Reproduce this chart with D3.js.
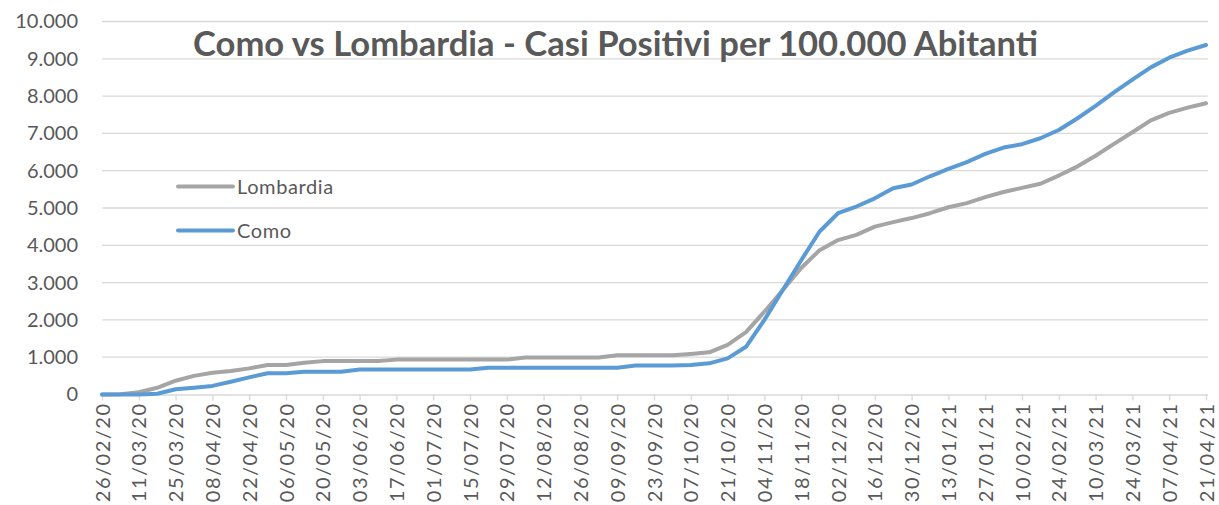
<!DOCTYPE html>
<html lang="it">
<head>
<meta charset="UTF-8">
<title>Como vs Lombardia</title>
<script src="https://d3js.org/d3.v7.min.js"></script>
<style>
    body { margin: 0; background: #fff; }
    text { font-family: Lato, "Open Sans", sans-serif; fill: #595959; }
    .grid line { stroke: #d9d9d9; stroke-width: 1.3px; }
    .axis path, .axis line { stroke: #d9d9d9; stroke-width: 1.3px; }
    .line { fill: none; stroke-width: 4px; stroke-linejoin: round; stroke-linecap: round; }
</style>
</head>
<body>
<svg width="1219" height="505"></svg>
<script>
    // tick labels, one every two weeks
    const tickLabels = ['26/02/20','11/03/20','25/03/20','08/04/20','22/04/20','06/05/20','20/05/20',
        '03/06/20','17/06/20','01/07/20','15/07/20','29/07/20','12/08/20','26/08/20','09/09/20',
        '23/09/20','07/10/20','21/10/20','04/11/20','18/11/20','02/12/20','16/12/20','30/12/20',
        '13/01/21','27/01/21','10/02/21','24/02/21','10/03/21','24/03/21','07/04/21','21/04/21'];

    // weekly values, casi positivi per 100.000 abitanti
    const lombardia = [0,10,60,180,370,500,585,630,700,790,790,850,895,895,895,895,935,935,935,935,
        935,935,935,990,990,990,990,990,1050,1050,1050,1050,1085,1130,1330,1670,2220,2800,3390,3870,
        4140,4280,4500,4620,4730,4860,5020,5130,5290,5430,5540,5650,5870,6110,6400,6720,7030,7350,
        7550,7690,7810];
    const como = [0,0,0,20,140,180,230,340,460,570,570,610,610,610,670,670,670,670,670,670,
        670,720,720,720,720,720,720,720,720,775,775,775,790,835,970,1280,2000,2800,3600,4370,
        4860,5040,5260,5530,5630,5850,6050,6230,6450,6620,6710,6870,7090,7400,7740,8100,8440,8770,
        9030,9220,9370];

    const yTicks = [0,1000,2000,3000,4000,5000,6000,7000,8000,9000,10000];

    const svg = d3.select('svg');
    const plotLeft = 102, plotRight = 1206, plotTop = 21.5, plotBottom = 394.5;

    const x = d3.scaleLinear().domain([0, lombardia.length - 1]).range([plotLeft, plotRight]);
    const y = d3.scaleLinear().domain([0, 10000]).range([plotBottom, plotTop]);
    const fmt = d3.format(',.0f');
    const itFmt = v => v === 0 ? '0' : fmt(v).replace(/,/g, '.');

    // gridlines
    svg.append('g').attr('class', 'grid')
        .selectAll('line').data(yTicks.filter(d => d > 0)).enter()
        .append('line')
        .attr('x1', plotLeft).attr('x2', plotRight + 2)
        .attr('y1', d => y(d)).attr('y2', d => y(d));

    // y labels
    const yAxis = svg.append('g')
        .attr('transform', `translate(${plotLeft - 14},0)`)
        .call(d3.axisLeft(y).tickValues(yTicks).tickSize(0).tickFormat(itFmt));
    yAxis.select('.domain').remove();
    yAxis.selectAll('text').style('font-size', '20px').attr('x', -10).attr('fill', '#595959');

    // x axis
    const xAxis = svg.append('g').attr('class', 'axis')
        .attr('transform', `translate(0,${plotBottom})`)
        .call(d3.axisBottom(x).tickValues(d3.range(0, lombardia.length, 2))
            .tickSize(6).tickSizeOuter(0).tickFormat(i => tickLabels[i / 2]));
    xAxis.select('.domain').attr('d', `M${plotLeft},0.5H${plotRight + 2}`);
    xAxis.selectAll('text')
        .style('font-size', '20px')
        .style('letter-spacing', '1.5px')
        .attr('fill', '#595959')
        .attr('transform', 'rotate(-90)')
        .attr('text-anchor', 'end')
        .attr('x', -8).attr('y', 0).attr('dy', '0.35em');

    // lines
    const line = d3.line().x((d, i) => x(i)).y(d => y(d));
    svg.append('path').attr('class', 'line').attr('d', line(lombardia)).attr('stroke', '#a5a5a5');
    svg.append('path').attr('class', 'line').attr('d', line(como)).attr('stroke', '#5b9bd5');

    // legend
    const legend = svg.selectAll('.legend')
        .data([['Lombardia', '#a5a5a5'], ['Como', '#5b9bd5']]).enter()
        .append('g').attr('class', 'legend')
        .attr('transform', (d, i) => `translate(178,${186.5 + i * 44})`);
    legend.append('line').attr('x1', 0).attr('x2', 55)
        .attr('stroke', d => d[1]).attr('stroke-width', 4).attr('stroke-linecap', 'round');
    legend.append('text').attr('x', 59).attr('y', 7.5)
        .style('font-size', '20px').style('letter-spacing', '0.6px')
        .text(d => d[0]);

    // title
    const title = svg.append('text')
        .attr('x', 193).attr('y', 56)
        .style('font-weight', 'bold')
        .style('font-size', '30px')
        .text('Como vs Lombardia - Casi Positivi per 100.000 Abitanti');
    const w = title.node().getComputedTextLength();
    title.style('font-size', (30 * 845 / w).toFixed(1) + 'px');
</script>
</body>
</html>
